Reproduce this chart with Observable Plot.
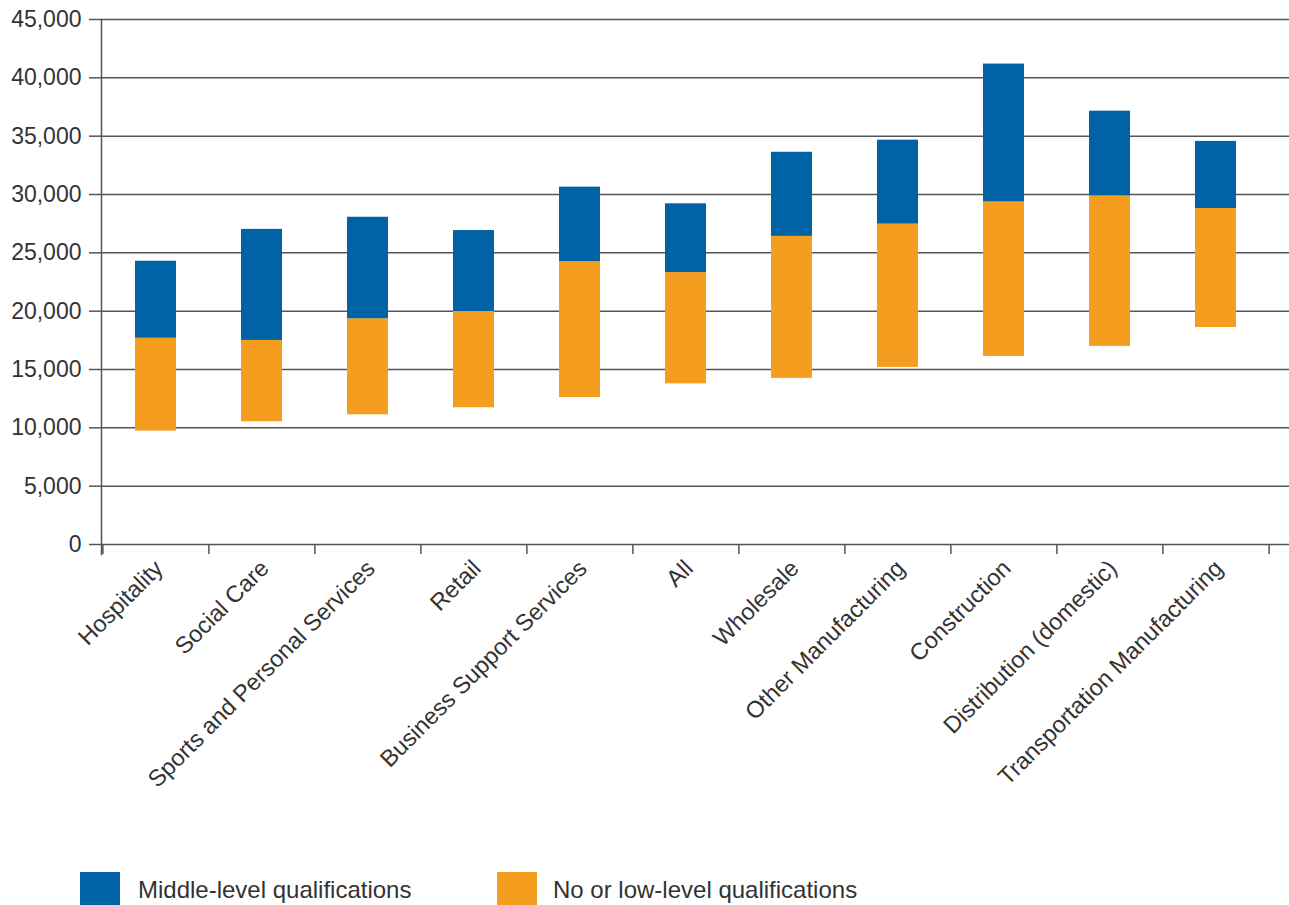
<!DOCTYPE html>
<html><head><meta charset="utf-8">
<script src="https://cdn.jsdelivr.net/npm/d3@7"></script>
<script src="https://cdn.jsdelivr.net/npm/@observablehq/plot@0.6"></script>
<style>
html,body{margin:0;padding:0;background:#fff;overflow:hidden;}
body{font-family:"Liberation Sans",Arial,sans-serif;}
#legend{position:relative;height:55px;width:1289px;}
.sw{position:absolute;top:22px;width:40px;height:40px;}
.lt{position:absolute;top:26px;font-size:24px;color:#333;line-height:28px;white-space:nowrap;}
</style></head><body>
<div id="chart"></div>
<div id="legend"></div>
<script>
const categories = ["Hospitality","Social Care","Sports and Personal Services","Retail","Business Support Services","All","Wholesale","Other Manufacturing","Construction","Distribution (domestic)","Transportation Manufacturing"];
const lowBottom = [9720, 10520, 11120, 11720, 12600, 13770, 14240, 15180, 16120, 16980, 18600];
const lowTop    = [17680, 17490, 19350, 19970, 24250, 23310, 26410, 27460, 29360, 29880, 28800];
const midTop    = [24280, 27010, 28050, 26910, 30630, 29200, 33620, 34660, 41180, 37140, 34550];
const yTicks = [0, 5000, 10000, 15000, 20000, 25000, 30000, 35000, 40000, 45000];
const seriesNames = ["Middle-level qualifications", "No or low-level qualifications"];
const colors = ["#0063a6", "#f59d1f"];

const rows = categories.flatMap((c, i) => [
  {cat: c, series: seriesNames[1], y1: lowBottom[i], y2: lowTop[i]},
  {cat: c, series: seriesNames[0], y1: lowTop[i], y2: midTop[i]}
]);

const W = 1289, H = 850, mL = 101, mR = 19;
const step = (W - mL - mR) / categories.length;
const lineColor = "#555";

const chart = Plot.plot({
  width: W, height: H,
  marginTop: 19, marginBottom: 306, marginLeft: mL, marginRight: mR,
  style: {fontFamily: '"Liberation Sans", Arial, sans-serif', fontSize: "23px", color: "#333", background: "#fff"},
  x: {domain: categories, paddingInner: 0.61, paddingOuter: 0.305, label: null},
  y: {domain: [0, 45000], label: null},
  color: {domain: seriesNames, range: colors},
  marks: [
    Plot.ruleY(yTicks, {stroke: lineColor, strokeWidth: 1.5, insetRight: -mR}),
    Plot.axisY({ticks: yTicks, tickFormat: d3.format(","), tickSize: 12, tickPadding: 8, stroke: lineColor, strokeWidth: 1.5, fill: "#333", label: null}),
    Plot.frame({anchor: "left", stroke: lineColor, strokeWidth: 1.5, insetBottom: -10}),
    Plot.barY(rows, {x: "cat", y1: "y1", y2: "y2", fill: "series"}),
    Plot.axisX({tickSize: 10, tickFormat: () => "", dx: -step / 2, stroke: lineColor, strokeWidth: 1.5, label: null}),
    Plot.axisX({ticks: [categories[categories.length - 1]], tickSize: 10, tickFormat: () => "", dx: step / 2, stroke: lineColor, strokeWidth: 1.5, label: null}),
    Plot.axisX({tickSize: 0, tickRotate: -45, tickPadding: 20, dx: 3, fill: "#333", fontSize: 23.5, label: null})
  ]
});
document.getElementById("chart").appendChild(chart);

const legend = document.getElementById("legend");
const legendX = [[80, 138], [497, 553]];
seriesNames.forEach((name, i) => {
  const sw = document.createElement("div");
  sw.className = "sw";
  sw.style.left = legendX[i][0] + "px";
  sw.style.background = colors[i];
  legend.appendChild(sw);
  const t = document.createElement("div");
  t.className = "lt";
  t.style.left = legendX[i][1] + "px";
  t.textContent = name;
  legend.appendChild(t);
});
</script>
</body></html>
